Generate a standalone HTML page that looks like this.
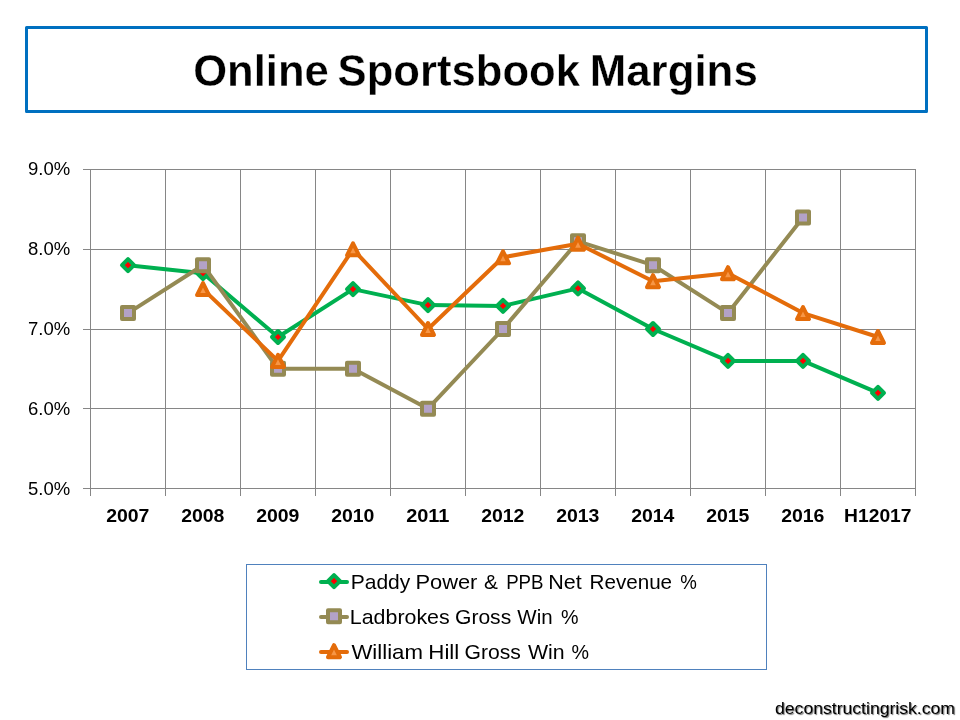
<!DOCTYPE html>
<html lang="en"><head><meta charset="utf-8"><title>Online Sportsbook Margins</title>
<style>
html,body{margin:0;padding:0;background:#fff;}
body{width:960px;height:720px;overflow:hidden;}
svg{display:block;will-change:transform;}
text{font-family:"Liberation Sans",Arial,sans-serif;fill:#000;}
.t{font-weight:bold;font-size:44.6px;stroke:#fff;stroke-width:0.35;stroke-linejoin:round;}
.yl{font-size:18.8px;}
.xl{font-size:18.5px;font-weight:bold;}
.lg{font-size:20.6px;}
.ft{font-size:16.4px;}
.g{stroke:#868686;stroke-width:1;fill:none;shape-rendering:crispEdges;}
.ln{fill:none;stroke-width:4;stroke-linejoin:round;stroke-linecap:round;}
.mk{stroke-width:4;stroke-linejoin:round;}
</style></head><body>
<svg width="960" height="720" viewBox="0 0 960 720">
<rect x="0" y="0" width="960" height="720" fill="#fff"/>
<rect x="26.5" y="27.5" width="900" height="84" fill="#fff" stroke="#0070C0" stroke-width="3" stroke-linejoin="round"/>
<text class="t" y="86.2"><tspan x="193.20" textLength="135.60" lengthAdjust="spacingAndGlyphs">Online</tspan> <tspan x="337.60" textLength="242.40" lengthAdjust="spacingAndGlyphs">Sportsbook</tspan> <tspan x="589.70" textLength="168.10" lengthAdjust="spacingAndGlyphs">Margins</tspan></text>
<path class="g" d="M83.0 169.5H915.5M83.0 249.5H915.5M83.0 329.5H915.5M83.0 408.5H915.5M83.0 488.5H915.5M90.5 169.5V496M165.5 169.5V496M240.5 169.5V496M315.5 169.5V496M390.5 169.5V496M465.5 169.5V496M540.5 169.5V496M615.5 169.5V496M690.5 169.5V496M765.5 169.5V496M840.5 169.5V496M915.5 169.5V496"/>
<text class="yl" x="70.2" y="174.5" text-anchor="end" textLength="42.2" lengthAdjust="spacingAndGlyphs">9.0%</text>
<text class="yl" x="70.2" y="254.5" text-anchor="end" textLength="42.2" lengthAdjust="spacingAndGlyphs">8.0%</text>
<text class="yl" x="70.2" y="334.5" text-anchor="end" textLength="42.2" lengthAdjust="spacingAndGlyphs">7.0%</text>
<text class="yl" x="70.2" y="414.5" text-anchor="end" textLength="42.2" lengthAdjust="spacingAndGlyphs">6.0%</text>
<text class="yl" x="70.2" y="494.5" text-anchor="end" textLength="42.2" lengthAdjust="spacingAndGlyphs">5.0%</text>
<text class="xl" x="127.8" y="522" text-anchor="middle" textLength="43.3" lengthAdjust="spacingAndGlyphs">2007</text>
<text class="xl" x="202.8" y="522" text-anchor="middle" textLength="43.3" lengthAdjust="spacingAndGlyphs">2008</text>
<text class="xl" x="277.8" y="522" text-anchor="middle" textLength="43.3" lengthAdjust="spacingAndGlyphs">2009</text>
<text class="xl" x="352.8" y="522" text-anchor="middle" textLength="43.3" lengthAdjust="spacingAndGlyphs">2010</text>
<text class="xl" x="427.8" y="522" text-anchor="middle" textLength="43.3" lengthAdjust="spacingAndGlyphs">2011</text>
<text class="xl" x="502.8" y="522" text-anchor="middle" textLength="43.3" lengthAdjust="spacingAndGlyphs">2012</text>
<text class="xl" x="577.8" y="522" text-anchor="middle" textLength="43.3" lengthAdjust="spacingAndGlyphs">2013</text>
<text class="xl" x="652.8" y="522" text-anchor="middle" textLength="43.3" lengthAdjust="spacingAndGlyphs">2014</text>
<text class="xl" x="727.8" y="522" text-anchor="middle" textLength="43.3" lengthAdjust="spacingAndGlyphs">2015</text>
<text class="xl" x="802.8" y="522" text-anchor="middle" textLength="43.3" lengthAdjust="spacingAndGlyphs">2016</text>
<text class="xl" x="877.8" y="522" text-anchor="middle" textLength="67.5" lengthAdjust="spacingAndGlyphs">H12017</text>
<polyline class="ln" stroke="#00B050" points="128.0,265.2 203.0,273.2 278.0,337.0 353.0,289.1 428.0,305.1 503.0,305.9 578.0,288.4 653.0,329.0 728.0,360.9 803.0,360.9 878.0,392.8"/>
<path class="mk" stroke="#00B050" fill="#FF0000" d="M128.0 259.2l6 6l-6 6l-6 -6z"/>
<path class="mk" stroke="#00B050" fill="#FF0000" d="M203.0 267.2l6 6l-6 6l-6 -6z"/>
<path class="mk" stroke="#00B050" fill="#FF0000" d="M278.0 331.0l6 6l-6 6l-6 -6z"/>
<path class="mk" stroke="#00B050" fill="#FF0000" d="M353.0 283.1l6 6l-6 6l-6 -6z"/>
<path class="mk" stroke="#00B050" fill="#FF0000" d="M428.0 299.1l6 6l-6 6l-6 -6z"/>
<path class="mk" stroke="#00B050" fill="#FF0000" d="M503.0 299.9l6 6l-6 6l-6 -6z"/>
<path class="mk" stroke="#00B050" fill="#FF0000" d="M578.0 282.4l6 6l-6 6l-6 -6z"/>
<path class="mk" stroke="#00B050" fill="#FF0000" d="M653.0 323.0l6 6l-6 6l-6 -6z"/>
<path class="mk" stroke="#00B050" fill="#FF0000" d="M728.0 354.9l6 6l-6 6l-6 -6z"/>
<path class="mk" stroke="#00B050" fill="#FF0000" d="M803.0 354.9l6 6l-6 6l-6 -6z"/>
<path class="mk" stroke="#00B050" fill="#FF0000" d="M878.0 386.8l6 6l-6 6l-6 -6z"/>
<polyline class="ln" stroke="#948A54" points="128.0,313.1 203.0,265.2 278.0,368.8 353.0,368.8 428.0,408.7 503.0,329.0 578.0,241.3 653.0,265.2 728.0,313.1 803.0,217.4"/>
<rect class="mk" stroke="#948A54" fill="#B3A2C7" x="122.0" y="307.1" width="12" height="12"/>
<rect class="mk" stroke="#948A54" fill="#B3A2C7" x="197.0" y="259.2" width="12" height="12"/>
<rect class="mk" stroke="#948A54" fill="#B3A2C7" x="272.0" y="362.8" width="12" height="12"/>
<rect class="mk" stroke="#948A54" fill="#B3A2C7" x="347.0" y="362.8" width="12" height="12"/>
<rect class="mk" stroke="#948A54" fill="#B3A2C7" x="422.0" y="402.7" width="12" height="12"/>
<rect class="mk" stroke="#948A54" fill="#B3A2C7" x="497.0" y="323.0" width="12" height="12"/>
<rect class="mk" stroke="#948A54" fill="#B3A2C7" x="572.0" y="235.3" width="12" height="12"/>
<rect class="mk" stroke="#948A54" fill="#B3A2C7" x="647.0" y="259.2" width="12" height="12"/>
<rect class="mk" stroke="#948A54" fill="#B3A2C7" x="722.0" y="307.1" width="12" height="12"/>
<rect class="mk" stroke="#948A54" fill="#B3A2C7" x="797.0" y="211.4" width="12" height="12"/>
<polyline class="ln" stroke="#E46C0A" points="203.0,289.1 278.0,360.9 353.0,249.3 428.0,329.0 503.0,257.3 578.0,243.7 653.0,281.2 728.0,273.2 803.0,313.1 878.0,337.0"/>
<path class="mk" stroke="#E46C0A" fill="#F79646" d="M203.0 283.1l6 12h-12z"/>
<path class="mk" stroke="#E46C0A" fill="#F79646" d="M278.0 354.9l6 12h-12z"/>
<path class="mk" stroke="#E46C0A" fill="#F79646" d="M353.0 243.3l6 12h-12z"/>
<path class="mk" stroke="#E46C0A" fill="#F79646" d="M428.0 323.0l6 12h-12z"/>
<path class="mk" stroke="#E46C0A" fill="#F79646" d="M503.0 251.3l6 12h-12z"/>
<path class="mk" stroke="#E46C0A" fill="#F79646" d="M578.0 237.7l6 12h-12z"/>
<path class="mk" stroke="#E46C0A" fill="#F79646" d="M653.0 275.2l6 12h-12z"/>
<path class="mk" stroke="#E46C0A" fill="#F79646" d="M728.0 267.2l6 12h-12z"/>
<path class="mk" stroke="#E46C0A" fill="#F79646" d="M803.0 307.1l6 12h-12z"/>
<path class="mk" stroke="#E46C0A" fill="#F79646" d="M878.0 331.0l6 12h-12z"/>
<rect x="246.5" y="564.5" width="520" height="105" fill="#fff" stroke="#4F81BD" stroke-width="1" shape-rendering="crispEdges"/>
<path class="ln" stroke="#00B050" d="M321 582.0H347"/>
<path class="mk" stroke="#00B050" fill="#FF0000" d="M334.0 575.2l6 6l-6 6l-6 -6z"/>
<text class="lg" y="588.6"><tspan x="350.70" textLength="59.60" lengthAdjust="spacingAndGlyphs">Paddy</tspan> <tspan x="415.40" textLength="62.00" lengthAdjust="spacingAndGlyphs">Power</tspan> <tspan x="484.10" textLength="13.90" lengthAdjust="spacingAndGlyphs">&amp;</tspan> <tspan x="506.20" textLength="37.30" lengthAdjust="spacingAndGlyphs">PPB</tspan> <tspan x="548.20" textLength="33.50" lengthAdjust="spacingAndGlyphs">Net</tspan> <tspan x="589.50" textLength="82.60" lengthAdjust="spacingAndGlyphs">Revenue</tspan> <tspan x="680.30" textLength="16.60" lengthAdjust="spacingAndGlyphs">%</tspan></text>
<path class="ln" stroke="#948A54" d="M321 617.0H347"/>
<rect class="mk" stroke="#948A54" fill="#B3A2C7" x="328.0" y="610.2" width="12" height="12"/>
<text class="lg" y="623.6"><tspan x="349.80" textLength="99.90" lengthAdjust="spacingAndGlyphs">Ladbrokes</tspan> <tspan x="455.00" textLength="56.20" lengthAdjust="spacingAndGlyphs">Gross</tspan> <tspan x="517.30" textLength="35.30" lengthAdjust="spacingAndGlyphs">Win</tspan> <tspan x="560.90" textLength="17.50" lengthAdjust="spacingAndGlyphs">%</tspan></text>
<path class="ln" stroke="#E46C0A" d="M321 652.0H347"/>
<path class="mk" stroke="#E46C0A" fill="#F79646" d="M334.0 645.2l6 12h-12z"/>
<text class="lg" y="658.6"><tspan x="351.40" textLength="71.60" lengthAdjust="spacingAndGlyphs">William</tspan> <tspan x="428.30" textLength="31.00" lengthAdjust="spacingAndGlyphs">Hill</tspan> <tspan x="464.50" textLength="56.40" lengthAdjust="spacingAndGlyphs">Gross</tspan> <tspan x="527.90" textLength="36.70" lengthAdjust="spacingAndGlyphs">Win</tspan> <tspan x="571.50" textLength="17.50" lengthAdjust="spacingAndGlyphs">%</tspan></text>
<text class="ft" x="955" y="713.7" text-anchor="end" textLength="180" lengthAdjust="spacingAndGlyphs" style="text-shadow:1px 1px 1px rgba(0,0,0,.55)">deconstructingrisk.com</text>
</svg></body></html>
